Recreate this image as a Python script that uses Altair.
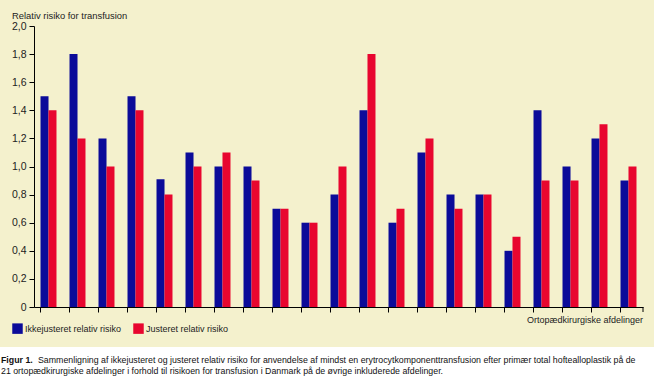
import altair as alt
import pandas as pd

departments = [str(i) for i in range(1, 22)]
unadjusted = [1.5, 1.8, 1.2, 1.5, 0.91, 1.1, 1.0, 1.0, 0.7, 0.6, 0.8, 1.4, 0.6, 1.1, 0.8, 0.8, 0.4, 1.4, 1.0, 1.2, 0.9]
adjusted = [1.4, 1.2, 1.0, 1.4, 0.8, 1.0, 1.1, 0.9, 0.7, 0.6, 1.0, 1.8, 0.7, 1.2, 0.7, 0.8, 0.5, 0.9, 0.9, 1.3, 1.0]
series_names = ["Ikkejusteret relativ risiko", "Justeret relativ risiko"]
y_ticks = [0, 0.2, 0.4, 0.6, 0.8, 1.0, 1.2, 1.4, 1.6, 1.8, 2.0]
y_title = "Relativ risiko for transfusion"
x_title = "Ortopædkirurgiske afdelinger"
caption_bold = "Figur 1."
caption_line1 = "Sammenligning af ikkejusteret og justeret relativ risiko for anvendelse af mindst en erytrocytkomponenttransfusion efter primær total hoftealloplastik på de"
caption_line2 = "21 ortopædkirurgiske afdelinger i forhold til risikoen for transfusion i Danmark på de øvrige inkluderede afdelinger."

BLUE = "#0B0B99"
RED = "#E8062F"
CREAM = "#F4F1CD"
FONT = "Liberation Sans"

rows = []
for d, u, a in zip(departments, unadjusted, adjusted):
    rows.append({"dept": d, "series": series_names[0], "value": u})
    rows.append({"dept": d, "series": series_names[1], "value": a})
df = pd.DataFrame(rows)

W, H = 609, 281
one = pd.DataFrame({"k": [0]})

bg = alt.Chart(one).mark_rect(color=CREAM).encode(
    x=alt.value(-34), x2=alt.value(W + 11), y=alt.value(-26), y2=alt.value(321)
)

bars = alt.Chart(df).mark_bar(size=8).encode(
    x=alt.X("dept:N", sort=departments,
            scale=alt.Scale(paddingInner=0.45, paddingOuter=0.225),
            axis=alt.Axis(title=None, labels=False, bandPosition=0, tickSize=5, zindex=2,
                          domainColor="black", tickColor="black", grid=False)),
    xOffset=alt.XOffset("series:N", sort=series_names),
    y=alt.Y("value:Q", scale=alt.Scale(domain=[0, 2]),
            axis=alt.Axis(title=None, values=y_ticks, tickSize=5, zindex=2,
                          labelExpr="datum.value == 0 ? '0' : replace(format(datum.value, '.1f'), '.', ',')",
                          labelFont=FONT, labelFontSize=10.5, labelColor="#222",
                          labelPadding=3, domainColor="black", tickColor="black", grid=False)),
    color=alt.Color("series:N", sort=series_names,
                    scale=alt.Scale(domain=series_names, range=[BLUE, RED]),
                    legend=alt.Legend(title=None, orient="none", legendX=-22, legendY=297,
                                      direction="horizontal", symbolType="square",
                                      symbolSize=110, symbolStrokeWidth=0, symbolOpacity=1,
                                      labelFont=FONT, labelFontSize=9, labelColor="#222",
                                      labelOffset=2, columnPadding=11)),
)

end_tick = alt.Chart(one).mark_rule(color="black").encode(
    x=alt.value(W), y=alt.value(H), y2=alt.value(H + 5)
)

ytitle = alt.Chart(pd.DataFrame({"t": [y_title]})).mark_text(
    align="left", baseline="middle", font=FONT, fontSize=9.4, color="#222"
).encode(x=alt.value(-22), y=alt.value(-10), text="t:N")

xtitle = alt.Chart(pd.DataFrame({"t": [x_title]})).mark_text(
    align="right", baseline="middle", font=FONT, fontSize=9, color="#222"
).encode(x=alt.value(W), y=alt.value(294), text="t:N")

cap_b = alt.Chart(pd.DataFrame({"t": [caption_bold]})).mark_text(
    align="left", baseline="middle", font=FONT, fontSize=8.8, fontWeight="bold", color="#111"
).encode(x=alt.value(-33), y=alt.value(334), text="t:N")

cap_1 = alt.Chart(pd.DataFrame({"t": [caption_line1]})).mark_text(
    align="left", baseline="middle", font=FONT, fontSize=8.8, color="#111"
).encode(x=alt.value(4), y=alt.value(334), text="t:N")

cap_2 = alt.Chart(pd.DataFrame({"t": [caption_line2]})).mark_text(
    align="left", baseline="middle", font=FONT, fontSize=8.8, color="#111"
).encode(x=alt.value(-33), y=alt.value(345), text="t:N")

chart = alt.layer(bg, bars, end_tick, ytitle, xtitle, cap_b, cap_1, cap_2).properties(
    width=W, height=H,
    padding={"left": 34, "top": 26, "right": 11, "bottom": 70},
    autosize=alt.AutoSizeParams(type="none"),
    background="white",
).configure_view(stroke=None)

chart.save("out.html", embed_options={"renderer": "svg", "actions": False})
